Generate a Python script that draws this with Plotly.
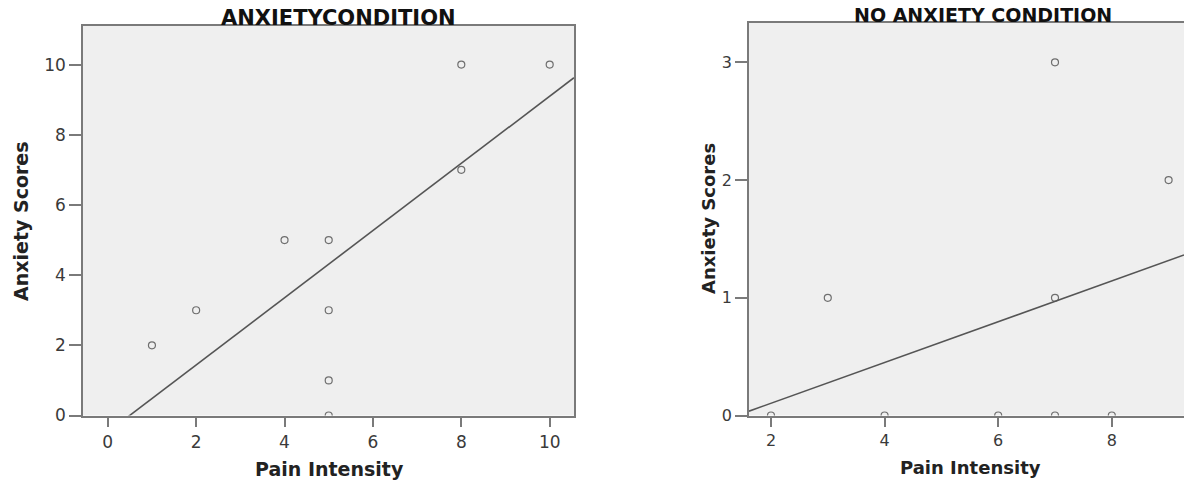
import numpy as np
import plotly.graph_objects as go

# ---- data ----
anx_pain = [1, 2, 4, 5, 5, 5, 5, 8, 8, 10]
anx_scores = [2, 3, 5, 5, 3, 1, 0, 10, 7, 10]
noanx_pain = [2, 3, 4, 6, 7, 7, 7, 8, 9]
noanx_scores = [0, 1, 0, 0, 3, 1, 0, 0, 2]

left_xticks = [0, 2, 4, 6, 8, 10]
left_yticks = [0, 2, 4, 6, 8, 10]
right_xticks = [2, 4, 6, 8]
right_yticks = [0, 1, 2, 3]

left_title = "ANXIETYCONDITION"
right_title = "NO ANXIETY CONDITION"
x_title = "Pain Intensity"
y_title = "Anxiety Scores"

W, H = 1184, 483
FONT = "DejaVu Sans"
BORDER = "#7a7a7a"
BG = "#efefef"
MARK = "#6f6f6f"
LINE = "#555555"

left_xrange = [-0.56, 10.55]
left_yrange = [0, 11.1]
right_xrange = [1.613, 9.271]
right_yrange = [0, 3.337]


def px_x(p):
    return p / W


def px_y(p):
    return 1 - p / H


def fit_line(x, y, xr):
    slope, intercept = np.polyfit(x, y, 1)
    xs = np.array(xr)
    return xs, slope * xs + intercept


fig = go.Figure()

fig.add_trace(go.Scatter(
    x=anx_pain, y=anx_scores, mode="markers",
    marker=dict(symbol="circle-open", size=7, color=MARK, line=dict(width=1.2)),
    xaxis="x", yaxis="y", showlegend=False, cliponaxis=True))
lx, ly = fit_line(anx_pain, anx_scores, left_xrange)
fig.add_trace(go.Scatter(
    x=lx, y=ly, mode="lines", line=dict(color=LINE, width=1.6),
    xaxis="x", yaxis="y", showlegend=False))

fig.add_trace(go.Scatter(
    x=noanx_pain, y=noanx_scores, mode="markers",
    marker=dict(symbol="circle-open", size=7, color=MARK, line=dict(width=1.2)),
    xaxis="x2", yaxis="y2", showlegend=False, cliponaxis=True))
rx, ry = fit_line(noanx_pain, noanx_scores, right_xrange)
fig.add_trace(go.Scatter(
    x=rx, y=ry, mode="lines", line=dict(color=LINE, width=1.6),
    xaxis="x2", yaxis="y2", showlegend=False))

tickfont = dict(family=FONT, size=17, color="#3a3a3a")
tickfont_r = dict(family=FONT, size=16, color="#3a3a3a")

common_x = dict(showgrid=False, zeroline=False, showline=True, linecolor=BORDER,
                linewidth=1.5, ticks="outside", tickcolor=BORDER, tickwidth=1.5,
                ticklen=10, fixedrange=True, automargin=False)
common_y = dict(showgrid=False, zeroline=False, showline=True, linecolor=BORDER,
                linewidth=1.5, ticks="outside", tickcolor=BORDER, tickwidth=1.5,
                ticklen=12, fixedrange=True, automargin=False)

fig.update_layout(
    template="none",
    width=W, height=H, autosize=False,
    margin=dict(l=0, r=0, t=0, b=0, pad=0),
    paper_bgcolor="white",
    plot_bgcolor=BG,
    xaxis=dict(domain=[px_x(83), px_x(574)], range=left_xrange, anchor="y",
               tickvals=left_xticks, tickfont=tickfont, mirror=True, **common_x),
    yaxis=dict(domain=[px_y(415.5), px_y(26)], range=left_yrange, anchor="x",
               tickvals=left_yticks, tickfont=tickfont, mirror=True, **common_y),
    xaxis2=dict(domain=[px_x(749), 1.0], range=right_xrange, anchor="y2",
                tickvals=right_xticks, tickfont=tickfont_r, mirror=True, **common_x),
    yaxis2=dict(domain=[px_y(415.5), px_y(22.7)], range=right_yrange, anchor="x2",
                tickvals=right_yticks, tickfont=tickfont_r, mirror=False, **common_y),
)

anns = [
    dict(text=f"<b>{left_title}</b>", x=px_x(338), y=px_y(17.5),
         font=dict(family=FONT, size=21, color="#111111")),
    dict(text=f"<b>{right_title}</b>", x=px_x(983), y=px_y(15.5),
         font=dict(family=FONT, size=19, color="#111111")),
    dict(text=f"<b>{x_title}</b>", x=px_x(329), y=px_y(469),
         font=dict(family=FONT, size=19, color="#222222")),
    dict(text=f"<b>{x_title}</b>", x=px_x(970), y=px_y(467),
         font=dict(family=FONT, size=18, color="#222222")),
    dict(text=f"<b>{y_title}</b>", x=px_x(21), y=px_y(221), textangle=-90,
         font=dict(family=FONT, size=19, color="#222222")),
    dict(text=f"<b>{y_title}</b>", x=px_x(708), y=px_y(219), textangle=-90,
         font=dict(family=FONT, size=18, color="#222222")),
]
for a in anns:
    fig.add_annotation(xref="paper", yref="paper", showarrow=False,
                       xanchor="center", yanchor="middle", **a)

fig.write_html("out.html")
